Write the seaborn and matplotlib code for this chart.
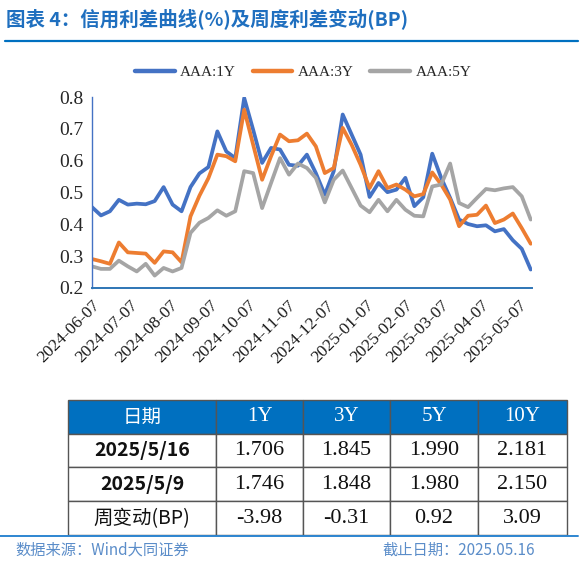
import matplotlib
matplotlib.use("Agg")
import matplotlib.pyplot as plt
import matplotlib.dates as mdates
from matplotlib.lines import Line2D
import numpy as np
import pandas as pd
import seaborn as sns

# 周度数据，2024-06-07 至 2025-05-16
dates = pd.date_range("2024-06-07", "2025-05-16", freq="7D")

aaa_1y = [0.454, 0.428, 0.441, 0.477, 0.462, 0.465, 0.463, 0.473, 0.517, 0.462,
          0.441, 0.517, 0.560, 0.580, 0.692, 0.629, 0.608, 0.797, 0.697, 0.593,
          0.640, 0.635, 0.587, 0.584, 0.619, 0.561, 0.493, 0.567, 0.745, 0.682,
          0.619, 0.486, 0.530, 0.501, 0.509, 0.546, 0.457, 0.485, 0.622, 0.546,
          0.483, 0.415, 0.401, 0.394, 0.397, 0.378, 0.385, 0.350, 0.323, 0.258]
aaa_3y = [0.291, 0.284, 0.276, 0.343, 0.312, 0.310, 0.308, 0.279, 0.315, 0.312,
          0.281, 0.425, 0.490, 0.545, 0.619, 0.614, 0.598, 0.760, 0.650, 0.540,
          0.614, 0.682, 0.661, 0.664, 0.685, 0.645, 0.561, 0.577, 0.703, 0.650,
          0.587, 0.514, 0.567, 0.514, 0.525, 0.509, 0.488, 0.495, 0.563, 0.525,
          0.478, 0.394, 0.427, 0.430, 0.459, 0.404, 0.415, 0.434, 0.388, 0.339]
aaa_5y = [0.268, 0.260, 0.260, 0.286, 0.268, 0.252, 0.276, 0.239, 0.263, 0.252,
          0.263, 0.373, 0.405, 0.420, 0.444, 0.427, 0.441, 0.567, 0.561, 0.451,
          0.530, 0.608, 0.556, 0.591, 0.577, 0.546, 0.469, 0.540, 0.569, 0.514,
          0.459, 0.438, 0.477, 0.441, 0.477, 0.446, 0.427, 0.425, 0.519, 0.525,
          0.591, 0.467, 0.454, 0.483, 0.511, 0.507, 0.513, 0.517, 0.488, 0.415]
series_names = ["AAA:1Y", "AAA:3Y", "AAA:5Y"]
colors = ["#4472C4", "#ED7D31", "#A5A5A5"]

# 表格数据
table_header = ["日期", "1Y", "3Y", "5Y", "10Y"]
table_rows = [
    ["2025/5/16", "1.706", "1.845", "1.990", "2.181"],
    ["2025/5/9", "1.746", "1.848", "1.980", "2.150"],
    ["周变动(BP)", "-3.98", "-0.31", "0.92", "3.09"],
]

title = "图表 4：信用利差曲线(%)及周度利差变动(BP)"
source_txt = "数据来源：Wind大同证券"
date_txt = "截止日期：2025.05.16"

sns.set_style("white")
plt.rcParams["font.family"] = ["Noto Sans CJK SC", "DejaVu Sans"]
serif = "Liberation Serif"

df = pd.DataFrame({"date": np.tile(dates, 3),
                   "value": aaa_1y + aaa_3y + aaa_5y,
                   "series": np.repeat(series_names, len(dates))})

fig = plt.figure(figsize=(5.83, 5.64), dpi=100)

# 标题和分隔线
fig.text(6/583, 1-19/564, title, fontsize=14, fontweight="bold", color="#1F6FBF",
         va="center", ha="left")
fig.add_artist(Line2D([5/583, 578/583], [1-41/564, 1-41/564], color="#0070C0", lw=1.6))

ax = fig.add_axes([92/583, 1-288/564, 440/583, 191/564])
sns.lineplot(data=df, x="date", y="value", hue="series", palette=colors,
             lw=2.7, ax=ax, legend=False)
ax.set_xlim(dates[0], dates[-1] + pd.Timedelta(days=1))
ax.set_ylim(0.2, 0.8)
ax.set_yticks(np.arange(0.2, 0.81, 0.1))
ax.yaxis.set_major_formatter(plt.FuncFormatter(lambda v, p: f"{v:.1f}"))
ax.set_xlabel("")
ax.set_ylabel("")

ticks = pd.date_range("2024-06-01", "2025-05-01", freq="MS") + pd.Timedelta(days=6)
ax.set_xticks(ticks)
ax.xaxis.set_major_formatter(mdates.DateFormatter("%Y-%m-%d"))
for lab in ax.get_xticklabels():
    lab.set_rotation(45)
    lab.set_ha("right")
    lab.set_rotation_mode("anchor")
    lab.set_family(serif)
    lab.set_fontsize(12.5)
for lab in ax.get_yticklabels():
    lab.set_family(serif)
    lab.set_fontsize(14)

ax.tick_params(axis="x", direction="out", length=4, color="#2E75B6", pad=3, colors="#1a1a1a")
ax.tick_params(axis="x", color="#2E75B6")
ax.tick_params(axis="y", direction="out", length=4, color="#4472C4", pad=2)
for s in ["top", "right"]:
    ax.spines[s].set_visible(False)
ax.spines["left"].set_color("#4472C4")
ax.spines["bottom"].set_color("#2E75B6")
ax.spines["left"].set_linewidth(1.0)
ax.spines["bottom"].set_linewidth(1.4)

handles = [Line2D([], [], color=c, lw=3.2) for c in colors]
leg = fig.legend(handles, series_names, loc="center", ncol=3,
                 bbox_to_anchor=(303/583, 1-72/564), frameon=False,
                 handlelength=2.6, columnspacing=1.1, handletextpad=0.35,
                 prop={"family": serif, "size": 11})

# 表格
ax_t = fig.add_axes([68/583, 1-535/564, 499/583, 135/564])
ax_t.axis("off")
widths = np.array([148, 87, 87, 88, 89], dtype=float)
tbl = ax_t.table(cellText=[table_header] + table_rows, bbox=[0, 0, 1, 1],
                 colWidths=list(widths / widths.sum()), cellLoc="center")
tbl.auto_set_font_size(False)
for (r, c), cell in tbl.get_celld().items():
    cell.set_edgecolor("#555555")
    cell.set_linewidth(1.0)
    txt = cell.get_text()
    if r == 0:
        cell.set_facecolor("#0070C0")
        txt.set_color("white")
        if c == 0:
            txt.set_fontsize(14)
        else:
            txt.set_family(serif)
            txt.set_fontsize(15)
    else:
        cell.set_facecolor("white")
        txt.set_color("#111111")
        if c == 0:
            txt.set_fontsize(14)
            if r < 3:
                txt.set_fontweight("bold")
        else:
            txt.set_family(serif)
            txt.set_fontsize(16)

fig.add_artist(Line2D([0, 578/583], [1-536/564, 1-536/564], color="#2E86D1", lw=1.4))
fig.text(15/583, 1-550/564, source_txt, fontsize=11, color="#5B8DC9",
         style="italic", va="center", ha="left")
fig.text(535/583, 1-550/564, date_txt, fontsize=11, color="#5B8DC9",
         style="italic", va="center", ha="right")

fig.savefig("out.png", dpi=100)
